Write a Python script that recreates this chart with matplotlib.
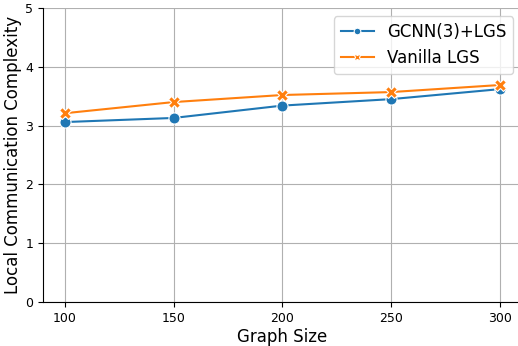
import matplotlib
matplotlib.use("Agg")
import matplotlib.pyplot as plt

graph_sizes = [100, 150, 200, 250, 300]
gcnn_lgs = [3.06, 3.13, 3.34, 3.45, 3.62]
vanilla_lgs = [3.21, 3.40, 3.52, 3.57, 3.69]

fig, ax = plt.subplots(figsize=(5.18, 3.46), dpi=100)

ax.plot(graph_sizes, gcnn_lgs, color="#1f77b4", marker="o", markersize=8,
        markeredgecolor="white", markeredgewidth=0.8, linewidth=1.5,
        label="GCNN(3)+LGS", zorder=3)
ax.plot(graph_sizes, vanilla_lgs, color="#ff7f0e", marker="X", markersize=8,
        markeredgecolor="white", markeredgewidth=0.8, linewidth=1.5,
        label="Vanilla LGS", zorder=3)

ax.set_ylim(0, 5)
ax.set_xlim(90, 310)
ax.set_xticks(graph_sizes)
ax.grid(True, color="#b0b0b0", linewidth=0.8)
ax.set_axisbelow(True)
for side in ("top", "right"):
    ax.spines[side].set_visible(False)

ax.set_xlabel("Graph Size", fontsize=12, labelpad=2)
ax.set_ylabel("Local Communication Complexity", fontsize=12, labelpad=2)
ax.tick_params(labelsize=9)
ax.legend(fontsize=12, loc="upper right", markerscale=0.6)

fig.subplots_adjust(left=0.083, right=1.007, top=0.977, bottom=0.127)
fig.savefig("out.png", dpi=100)
